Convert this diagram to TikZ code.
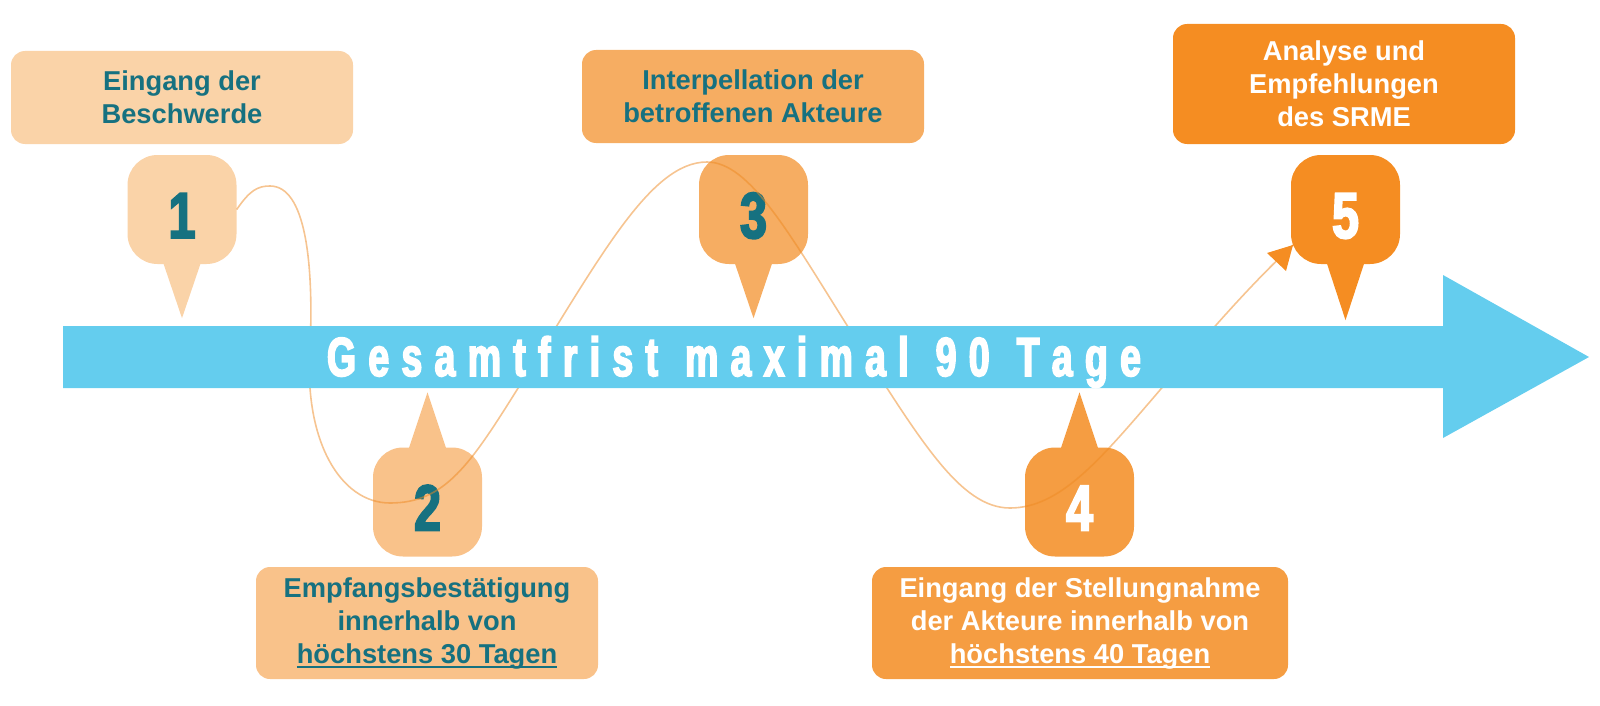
\documentclass[tikz,border=0pt]{standalone}
\usepackage{fontspec}
\setmainfont{Liberation Sans}
\newfontfamily\condfont{Liberation Sans}[FakeStretch=0.68,FakeBold=3]
\newfontfamily\digitfont{Liberation Sans}[FakeStretch=0.74,FakeBold=3]
\usetikzlibrary{calc}
\definecolor{cA}{HTML}{FAD3A8}
\definecolor{cB}{HTML}{F9C28A}
\definecolor{cC}{HTML}{F6AD62}
\definecolor{cD}{HTML}{F59D42}
\definecolor{cE}{HTML}{F58D22}
\definecolor{teal}{HTML}{167180}
\definecolor{banner}{HTML}{64CDEE}
\definecolor{flowc}{HTML}{EE8A24}
\newcommand\myul[1]{\setbox0\hbox{#1}\rlap{\rule[-4.5pt]{\wd0}{1.8pt}}\box0}
\newcommand\lgap{\hskip 0pt plus 1fil\relax}
\newcommand\wgap{\hskip 0pt plus 2.2fil\relax}
\begin{document}
\begin{tikzpicture}[x=1pt,y=-1pt,
  box/.style={rounded corners=14pt, minimum height=93pt, minimum width=342pt,
    inner sep=0pt, align=center, font=\fontsize{27.3}{33}\selectfont\bfseries},
  marker/.style={rounded corners=30pt, minimum size=109pt, inner sep=0pt,
    text height=57pt, text depth=0pt,
    font=\digitfont\bfseries\fontsize{65}{65}\selectfont},
  flow/.style={draw=flowc, draw opacity=0.5, line width=1.6pt}]
\useasboundingbox (0,0) rectangle (1600,706);

% text boxes
\node[box, fill=cA, text=teal] (b1) at (182,97.5) {Eingang der\\Beschwerde};
\node[box, fill=cB, text=teal, minimum height=112pt] (b2) at (427,623) {Empfangsbestätigung\\innerhalb von\\\myul{höchstens 30 Tagen}};
\node[box, fill=cC, text=teal] (b3) at (753,96.5) {Interpellation der\\betroffenen Akteure};
\node[box, fill=cD, text=white, minimum height=112pt, minimum width=416pt] (b4) at (1080,623) {Eingang der Stellungnahme\\der Akteure innerhalb von\\\myul{höchstens 40 Tagen}};
\node[box, fill=cE, text=white, minimum height=120pt] (b5) at (1344,84) {Analyse und\\Empfehlungen\\des SRME};

% markers
\node[marker, fill=cA, text=teal] (m1) at (182,209.5) {1};
\node[marker, fill=cB, text=teal] (m2) at (427.5,502) {2};
\node[marker, fill=cC, text=teal] (m3) at (753.5,209.5) {3};
\node[marker, fill=cD, text=white] (m4) at (1079.5,502) {4};
\node[marker, fill=cE, text=white] (m5) at (1345.5,209.5) {5};

% pointers
\fill[cA] ($(m1.south)+(-19,-2)$) -- ($(m1.south)+(19,-2)$) -- ($(m1.south)+(0,54)$) -- cycle;
\fill[cC] ($(m3.south)+(-19,-2)$) -- ($(m3.south)+(19,-2)$) -- ($(m3.south)+(0,54)$) -- cycle;
\fill[cE] ($(m5.south)+(-19,-2)$) -- ($(m5.south)+(19,-2)$) -- ($(m5.south)+(0,56)$) -- cycle;
\fill[cB] ($(m2.north)+(-19,2)$) -- ($(m2.north)+(19,2)$) -- ($(m2.north)+(0,-55)$) -- cycle;
\fill[cD] ($(m4.north)+(-19,2)$) -- ($(m4.north)+(19,2)$) -- ($(m4.north)+(0,-55)$) -- cycle;

% flow curve
\coordinate (tip5) at ($(m5.center)+(-52.5,35.5)$);
\draw[flow] (m1.east) .. controls (250,190) and (258,186) .. (270,186)
  .. controls (305,186) and (314,260) .. (310,350)
  .. controls (304,440) and (340,503) .. (390,503)
  .. controls (445,503) and (470,465) .. (520,385)
  .. controls (600,258) and (650,162) .. (707,162)
  .. controls (750,162) and (790,235) .. (850,330)
  .. controls (920,440) and (960,508) .. (1010,508)
  .. controls (1060,508) and (1100,460) .. (1160,390)
  .. controls (1200,343) and (1245,290) .. (tip5);
\fill[cE] (tip5) -- ++(-26,8) -- ++(19,18) -- cycle;

% banner arrow
\fill[banner] (63,326) -- (1443,326) -- (1443,275) -- (1589,357) -- (1443,438) -- (1443,388) -- (63,388) -- cycle;
\node[anchor=base, inner sep=0pt, text=white, font=\condfont\bfseries\fontsize{55}{55}\selectfont] (title) at (734,376)
  {\makebox[814pt][s]{G\lgap e\lgap s\lgap a\lgap m\lgap t\lgap f\lgap r\lgap i\lgap s\lgap t\wgap m\lgap a\lgap x\lgap i\lgap m\lgap a\lgap l\wgap 9\lgap 0\wgap T\lgap a\lgap g\lgap e}};
\end{tikzpicture}
\end{document}
